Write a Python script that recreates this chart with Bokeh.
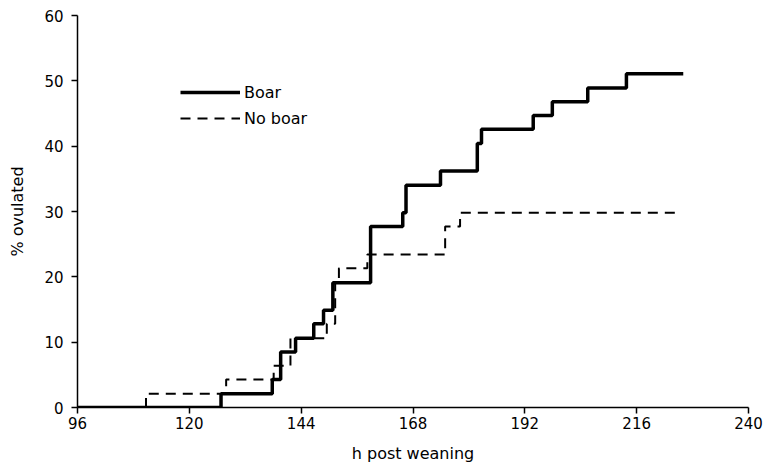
from bokeh.plotting import figure
from bokeh.models import Range1d, FixedTicker, Legend, LegendItem
from bokeh.embed import file_html
from bokeh.resources import INLINE

# Data (h post weaning, % ovulated)
boar_h = [96, 126.8, 137.8, 139.6, 142.8, 146.7, 148.8, 150.8, 158.9, 165.8, 166.5,
          173.9, 181.8, 182.7, 193.8, 197.9, 205.5, 213.8, 226]
boar_pct = [0, 2.1, 4.3, 8.5, 10.6, 12.8, 14.9, 19.1, 27.7, 29.8, 34.0,
            36.2, 40.4, 42.6, 44.7, 46.8, 48.9, 51.1, 51.1]

noboar_h = [96, 110.7, 127.9, 138.1, 141.7, 149.5, 151.3, 152.1, 158.2, 174.9, 178.1, 224.8]
noboar_pct = [0, 2.1, 4.3, 6.4, 10.6, 12.8, 19.1, 21.3, 23.4, 27.7, 29.8, 29.8]

x_ticks = [96, 120, 144, 168, 192, 216, 240]
y_ticks = [0, 10, 20, 30, 40, 50, 60]

FONT = "DejaVu Sans"
W, H = 763, 467

p = figure(width=W, height=H, output_backend="svg", toolbar_location=None,
           x_range=Range1d(96, 240), y_range=Range1d(0, 60),
           min_border_left=77, min_border_right=W - 748, min_border_top=15,
           min_border_bottom=H - 407)
p.outline_line_color = None
p.xgrid.visible = False
p.ygrid.visible = False

r1 = p.step(boar_h, boar_pct, mode="after", line_color="black", line_width=3.5)
r2 = p.step(noboar_h, noboar_pct, mode="after", line_color="black", line_width=2,
            line_dash="10 7")

for ax in (p.xaxis[0], p.yaxis[0]):
    ax.axis_line_color = "black"
    ax.axis_line_width = 1.5
    ax.major_tick_line_color = "black"
    ax.major_tick_line_width = 1.5
    ax.major_tick_in = 0
    ax.major_tick_out = 6
    ax.minor_tick_line_color = None
    ax.major_label_text_font = FONT
    ax.major_label_text_font_size = "15px"
    ax.major_label_text_color = "black"
    ax.axis_label_text_font = FONT
    ax.axis_label_text_font_size = "16px"
    ax.axis_label_text_font_style = "normal"
    ax.axis_label_text_color = "black"

p.xaxis.ticker = FixedTicker(ticks=x_ticks)
p.yaxis.ticker = FixedTicker(ticks=y_ticks)
p.xaxis.axis_label = "h post weaning"
p.yaxis.axis_label = "% ovulated"
p.xaxis.major_label_standoff = 3
p.xaxis.axis_label_standoff = 12
p.yaxis.major_label_standoff = 8
p.yaxis.axis_label_standoff = 14

legend = Legend(items=[LegendItem(label="Boar", renderers=[r1]),
                       LegendItem(label="No boar", renderers=[r2])],
                location=(103, 279), orientation="vertical")
legend.glyph_width = 60
legend.glyph_height = 20
legend.label_height = 20
legend.spacing = 6
legend.padding = 0
legend.margin = 0
legend.label_standoff = 4
legend.border_line_color = None
legend.background_fill_alpha = 0
legend.label_text_font = FONT
legend.label_text_font_size = "16px"
legend.label_text_color = "black"
p.add_layout(legend, "center")

open("out.html", "w").write(file_html(p, INLINE))
